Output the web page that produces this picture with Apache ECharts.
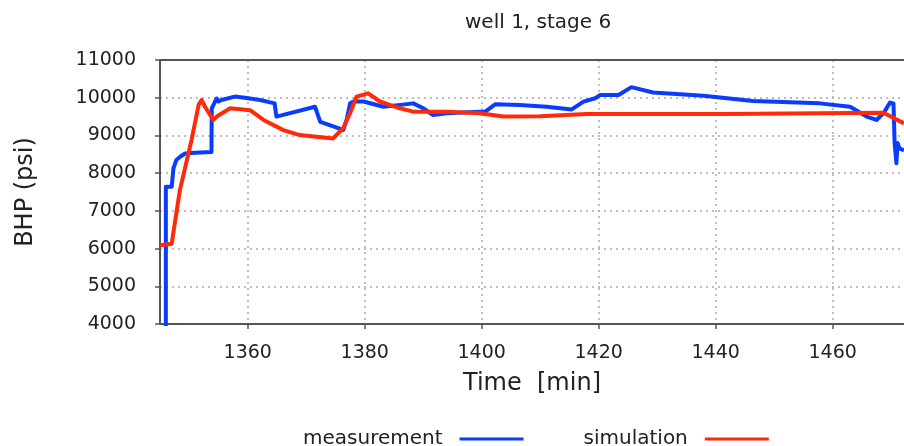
<!DOCTYPE html>
<html>
<head>
<meta charset="utf-8">
<script src="https://cdn.jsdelivr.net/npm/echarts@6/dist/echarts.min.js"></script>
<style>
  html, body { margin: 0; padding: 0; background: #ffffff; }
  #chart { width: 904px; height: 446px; }
</style>
</head>
<body>
<div id="chart"></div>
<script>
// ---- data ----
const chartTitle = 'well 1, stage 6';
const seriesNames = ['measurement', 'simulation'];
const xTicks = [1360, 1380, 1400, 1420, 1440, 1460];
const yTicks = [4000, 5000, 6000, 7000, 8000, 9000, 10000, 11000];

const measurementTime = [1346.0, 1346.0, 1347.0, 1347.3, 1347.8, 1348.5, 1349.3, 1351.0, 1353.8, 1353.85,
  1354.7, 1355.0, 1355.5, 1357.8, 1359.8, 1362.1, 1364.6, 1364.9, 1371.5, 1372.4,
  1376.35, 1376.9, 1377.5, 1378.1, 1379.8, 1383.2, 1386.1, 1388.3, 1390.0, 1391.7,
  1394.0, 1399.7, 1400.6, 1402.3, 1406.5, 1411.1, 1415.4, 1417.4, 1419.4, 1420.2,
  1423.4, 1425.6, 1429.3, 1437.9, 1446.4, 1457.8, 1463.0, 1465.8, 1467.5, 1468.7,
  1469.8, 1470.4, 1470.6, 1470.9, 1471.1, 1471.4, 1472.2];
const measurementBHP = [3500, 7640, 7640, 8130, 8350, 8440, 8520, 8540, 8560, 9720,
  9980, 9900, 9940, 10030, 9990, 9940, 9850, 9500, 9760, 9360,
  9145, 9410, 9850, 9900, 9900, 9760, 9810, 9850, 9720, 9540,
  9590, 9630, 9630, 9825, 9805, 9760, 9690, 9895, 9985, 10070,
  10070, 10280, 10140, 10055, 9910, 9850, 9760, 9500, 9410, 9590,
  9870, 9850, 8800, 8260, 8800, 8660, 8600];

const simulationTime = [1345.0, 1347.0, 1348.4, 1350.4, 1351.6, 1352.1, 1352.7, 1354.1, 1354.7, 1357.0,
  1360.4, 1362.7, 1366.1, 1368.9, 1374.6, 1376.3, 1377.5, 1378.6, 1380.6, 1382.6,
  1386.0, 1388.3, 1394.0, 1399.7, 1403.7, 1410.0, 1417.9, 1441.6, 1441.7, 1468.7,
  1472.2];
const simulationBHP = [6090, 6130, 7550, 8880, 9810, 9940, 9760, 9410, 9500, 9720,
  9670, 9410, 9140, 9010, 8920, 9190, 9590, 10030, 10115, 9900,
  9720, 9630, 9630, 9590, 9500, 9510, 9565, 9565, 9600, 9600,
  9320];

// ---- chart ----
const FONT = 'DejaVu Sans';
const TEXT = '#222222';
const AXIS = '#555555';
const X_MIN = 1345, X_MAX = 1472.2;

const pairs = (xs, ys) => xs.map((x, i) => [x, ys[i]]);
const plain = (v) => String(v);

const chart = echarts.init(document.getElementById('chart'), null, { renderer: 'canvas' });

chart.setOption({
  animation: false,
  backgroundColor: '#ffffff',
  textStyle: { fontFamily: FONT, color: TEXT },
  title: {
    text: chartTitle,
    left: 460,
    top: 8,
    textStyle: { fontFamily: FONT, fontSize: 20, fontWeight: 'normal', color: TEXT }
  },
  grid: { left: 160, right: 0, top: 60, bottom: 122 },
  legend: {
    data: seriesNames,
    left: 303,
    top: 429,
    padding: 0,
    align: 'right',
    icon: 'rect',
    itemWidth: 64,
    itemHeight: 3,
    itemGap: 60,
    textStyle: { fontFamily: FONT, fontSize: 20, color: TEXT, padding: [0, 12, 0, 0] }
  },
  xAxis: [{
    type: 'value',
    min: X_MIN,
    max: X_MAX,
    position: 'bottom',
    name: 'Time  [min]',
    nameLocation: 'middle',
    nameGap: 48,
    nameTextStyle: { fontFamily: FONT, fontSize: 24, color: TEXT },
    axisLine: { show: true, onZero: false, lineStyle: { color: AXIS, width: 2 } },
    axisTick: { show: true, length: 5, customValues: xTicks, lineStyle: { color: AXIS, width: 1.5 } },
    axisLabel: { customValues: xTicks, formatter: plain, fontFamily: FONT, fontSize: 19, color: TEXT, margin: 20 },
    splitLine: { show: true, lineStyle: { color: '#aaaaaa', width: 1.5, type: [2, 4] } }
  }, {
    type: 'value',
    min: X_MIN,
    max: X_MAX,
    position: 'top',
    axisLine: { show: true, onZero: false, lineStyle: { color: AXIS, width: 2 } },
    axisTick: { show: false },
    axisLabel: { show: false },
    splitLine: { show: false }
  }],
  yAxis: {
    type: 'value',
    min: yTicks[0],
    max: yTicks[yTicks.length - 1],
    interval: 1000,
    name: 'BHP (psi)',
    nameLocation: 'middle',
    nameGap: 122,
    nameTextStyle: { fontFamily: FONT, fontSize: 24, color: TEXT },
    axisLine: { show: true, onZero: false, lineStyle: { color: AXIS, width: 2 } },
    axisTick: { show: true, length: 5, lineStyle: { color: AXIS, width: 1.5 } },
    axisLabel: { formatter: plain, fontFamily: FONT, fontSize: 19, color: TEXT, margin: 24 },
    splitLine: { show: true, lineStyle: { color: '#aaaaaa', width: 1.5, type: [2, 4] } }
  },
  series: [{
    name: seriesNames[0],
    type: 'line',
    data: pairs(measurementTime, measurementBHP),
    showSymbol: false,
    symbol: 'none',
    clip: true,
    color: '#0a3cff',
    lineStyle: { color: '#0a3cff', width: 4, join: 'round' }
  }, {
    name: seriesNames[1],
    type: 'line',
    data: pairs(simulationTime, simulationBHP),
    showSymbol: false,
    symbol: 'none',
    clip: true,
    color: '#ff2a0a',
    lineStyle: { color: '#ff2a0a', width: 4, join: 'round' }
  }]
});
</script>
</body>
</html>
